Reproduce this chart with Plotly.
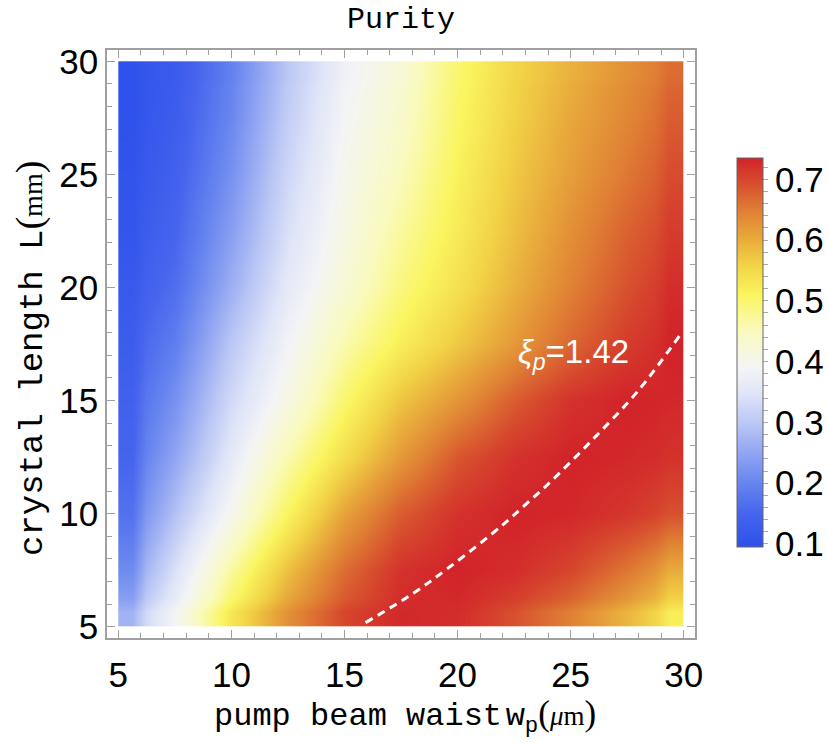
import plotly.graph_objects as go

# ---- data ----
waist_um = [5, 7.5, 10, 12.5, 15, 17.5, 20, 22.5, 25, 27.5, 30]
length_mm = [5, 7.5, 10, 12.5, 15, 17.5, 20, 22.5, 25, 27.5, 30]

# rows: crystal length (bottom -> top), columns: pump beam waist (left -> right)
purity = [
    [0.27, 0.39, 0.53, 0.63, 0.70, 0.73, 0.725, 0.69, 0.645, 0.59, 0.52],
    [0.21, 0.34, 0.47, 0.58, 0.665, 0.72, 0.735, 0.725, 0.70, 0.655, 0.60],
    [0.17, 0.29, 0.40, 0.51, 0.61, 0.68, 0.72, 0.735, 0.73, 0.715, 0.69],
    [0.15, 0.25, 0.36, 0.46, 0.545, 0.62, 0.685, 0.72, 0.735, 0.73, 0.72],
    [0.14, 0.22, 0.33, 0.41, 0.50, 0.575, 0.625, 0.68, 0.72, 0.735, 0.73],
    [0.13, 0.19, 0.30, 0.385, 0.46, 0.52, 0.57, 0.62, 0.67, 0.71, 0.735],
    [0.12, 0.165, 0.265, 0.36, 0.425, 0.49, 0.54, 0.595, 0.645, 0.69, 0.725],
    [0.11, 0.15, 0.24, 0.34, 0.41, 0.47, 0.525, 0.58, 0.63, 0.675, 0.71],
    [0.105, 0.14, 0.22, 0.325, 0.40, 0.45, 0.515, 0.57, 0.615, 0.655, 0.695],
    [0.10, 0.13, 0.205, 0.31, 0.39, 0.435, 0.505, 0.56, 0.605, 0.64, 0.68],
    [0.10, 0.125, 0.195, 0.30, 0.38, 0.425, 0.50, 0.555, 0.595, 0.63, 0.665],
]

# dashed contour xi_p = 1.42
contour_w = [15.93, 18, 19.69, 22, 22.93, 24, 26, 28, 29.87]
contour_L = [5.18, 6.45, 7.67, 9.5, 10.33, 11.3, 13.3, 15.45, 17.94]

x_ticks = [5, 10, 15, 20, 25, 30]
y_ticks = [5, 10, 15, 20, 25, 30]
cbar_ticks = [0.1, 0.2, 0.3, 0.4, 0.5, 0.6, 0.7]

z_min, z_max = 0.095, 0.735

colorscale = [
    [0.000, "rgb(44,80,235)"],
    [0.086, "rgb(70,100,237)"],
    [0.164, "rgb(103,133,239)"],
    [0.242, "rgb(145,165,242)"],
    [0.320, "rgb(188,200,245)"],
    [0.398, "rgb(225,230,248)"],
    [0.461, "rgb(244,245,245)"],
    [0.555, "rgb(250,250,190)"],
    [0.648, "rgb(250,245,95)"],
    [0.727, "rgb(242,210,70)"],
    [0.789, "rgb(233,172,60)"],
    [0.867, "rgb(223,125,52)"],
    [0.945, "rgb(214,70,45)"],
    [1.000, "rgb(210,35,42)"],
]


def edges(c):
    e = [c[0]]
    for a, b in zip(c[:-1], c[1:]):
        e.append((a + b) / 2)
    e.append(c[-1])
    return e


# colour-bar ticks every 0.02, labelled at the major values
cb_vals = [round(0.1 + 0.02 * i, 2) for i in range(32)]
cb_text = [("%.1f" % v) if any(abs(v - t) < 1e-6 for t in cbar_ticks) else " " for v in cb_vals]

num_font = "Liberation Sans, Arial, sans-serif"
mono = "Liberation Mono, Courier New, monospace"

# plot-area geometry in pixels
PL, PR, PT, PB = 107, 695, 50, 638
PW, PH = PR - PL, PB - PT

fig = go.Figure()
fig.add_trace(go.Heatmap(
    x=edges(waist_um), y=edges(length_mm), z=purity,
    zmin=z_min, zmax=z_max, zsmooth="best", colorscale=colorscale,
    colorbar=dict(
        x=(737 - PL) / PW, xanchor="left", xref="paper", xpad=0,
        y=1 - (352.5 - PT) / PH, yanchor="middle", yref="paper", ypad=0,
        len=389 / PH, lenmode="fraction", thickness=26,
        outlinewidth=1, outlinecolor="#666",
        tickmode="array", tickvals=cb_vals, ticktext=cb_text,
        ticks="outside", ticklen=5, tickcolor="#aaa", tickwidth=1,
        tickfont=dict(family=num_font, size=35, color="black"),
    ),
    hoverinfo="skip",
))

fig.add_trace(go.Scatter(
    x=contour_w, y=contour_L, mode="lines",
    line=dict(color="white", width=3, dash="8px,6px", shape="spline"),
    showlegend=False, hoverinfo="skip",
))

fig.add_annotation(
    x=25.13, y=17.05, xref="x", yref="y",
    text="<i>ξ</i><sub><i>p</i></sub>=1.42", showarrow=False,
    font=dict(family=num_font, size=33, color="white"),
)

# axis titles (as annotations for exact placement)
fig.add_annotation(
    x=(405 - PL) / PW, y=-(716 - PB) / PH, xref="paper", yref="paper",
    xanchor="center", yanchor="middle", showarrow=False,
    text=("pump beam waist<span style=\"font-size:6px\"> </span>w<sub>p</sub>"
          "<span style=\"font-family:'Liberation Serif';font-size:35px\">(</span>"
          "<span style=\"font-family:'Liberation Serif';font-size:27px\"><i>μ</i>m</span>"
          "<span style=\"font-family:'Liberation Serif';font-size:35px\">)</span>"),
    font=dict(family=mono, size=32, color="black"),
)
fig.add_annotation(
    x=-(107 - 30) / PW, y=1 - (359 - PT) / PH, xref="paper", yref="paper",
    xanchor="center", yanchor="middle", showarrow=False, textangle=-90,
    text=("crystal length L"
          "<span style=\"font-family:'Liberation Serif';font-size:38px\">(</span>"
          "<span style=\"font-family:'Liberation Serif';font-size:28px\">mm</span>"
          "<span style=\"font-family:'Liberation Serif';font-size:38px\">)</span>"),
    font=dict(family=mono, size=34, color="black"),
)

axis_common = dict(
    showline=True, linecolor="#a0a0a0", linewidth=1.5, mirror="allticks",
    ticks="inside", ticklen=8, tickcolor="#a0a0a0", tickwidth=1,
    showgrid=False, zeroline=False, automargin=False,
    tickfont=dict(family=num_font, size=35, color="black"),
    minor=dict(ticks="inside", ticklen=5, dtick=1, tickcolor="#a0a0a0", showgrid=False),
)

fig.update_xaxes(range=[4.5, 30.5], tickvals=x_ticks, ticklabelstandoff=5, **axis_common)
fig.update_yaxes(range=[4.5, 30.5], tickvals=y_ticks, **axis_common)

fig.update_layout(
    width=827, height=747,
    margin=dict(l=PL, r=827 - PR, t=PT, b=747 - PB, autoexpand=False),
    plot_bgcolor="white", paper_bgcolor="white",
    title=dict(text="Purity", x=0.5, xref="paper", xanchor="center",
               y=1 - 17 / 747, yref="container", yanchor="middle",
               font=dict(family=mono, size=30, color="black")),
    showlegend=False,
)

fig.write_html("out.html")
